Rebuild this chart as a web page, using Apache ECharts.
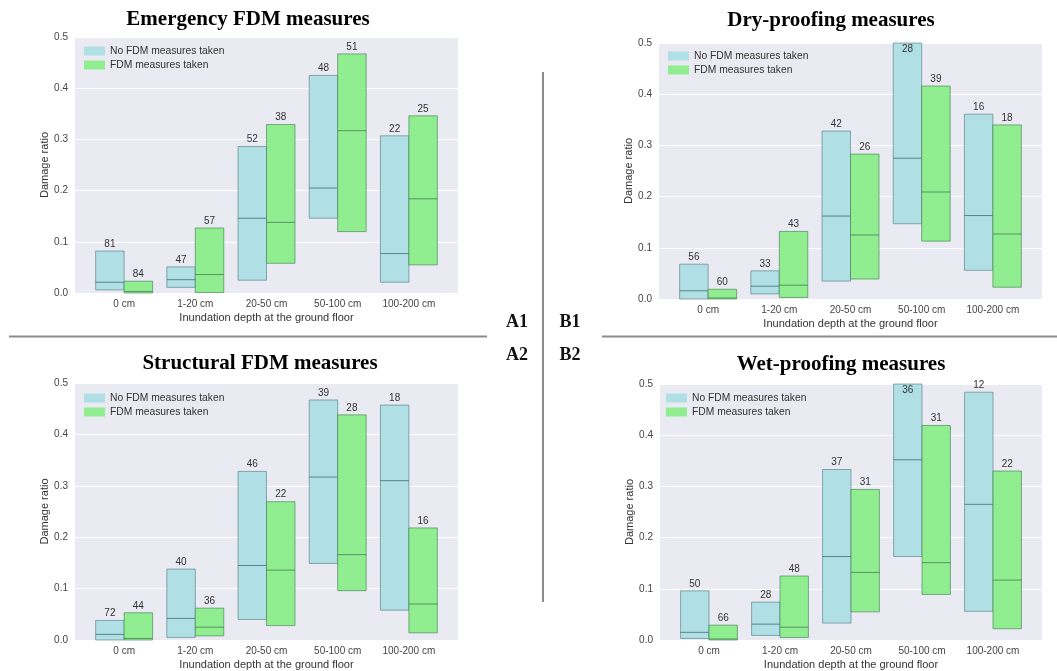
<!DOCTYPE html>
<html>
<head>
<meta charset="utf-8">
<script src="https://cdn.jsdelivr.net/npm/echarts@6/dist/echarts.min.js"></script>
<style>
  html, body { margin: 0; padding: 0; background: #fff; }
  #main { width: 1057px; height: 671px; }
</style>
</head>
<body>
<div id="main"></div>
<script>
// categories on the x axis
var categories = ['0 cm', '1-20 cm', '20-50 cm', '50-100 cm', '100-200 cm'];
var yTicks = [0, 0.1, 0.2, 0.3, 0.4, 0.5];
var seriesNames = ['No FDM measures taken', 'FDM measures taken'];

// [low, median, high] damage ratio per category, plus sample counts
// A1 Emergency
var emergencyNo = [[0.006, 0.021, 0.082], [0.011, 0.026, 0.051], [0.025, 0.146, 0.286], [0.146, 0.205, 0.425], [0.021, 0.077, 0.307]];
var emergencyNoN = [81, 47, 52, 48, 22];
var emergencyYes = [[0.0, 0.003, 0.023], [0.001, 0.036, 0.127], [0.058, 0.138, 0.329], [0.120, 0.317, 0.467], [0.055, 0.184, 0.346]];
var emergencyYesN = [84, 57, 38, 51, 25];
// B1 Dry-proofing
var dryNo = [[0.0, 0.016, 0.068], [0.010, 0.025, 0.055], [0.035, 0.162, 0.328], [0.147, 0.275, 0.52], [0.056, 0.163, 0.361]];
var dryNoN = [56, 33, 42, 28, 16];
var dryYes = [[0.0, 0.002, 0.019], [0.003, 0.027, 0.132], [0.039, 0.125, 0.283], [0.113, 0.209, 0.416], [0.023, 0.127, 0.340]];
var dryYesN = [60, 43, 26, 39, 18];
// A2 Structural
var structNo = [[0.0, 0.011, 0.038], [0.005, 0.042, 0.138], [0.040, 0.145, 0.328], [0.149, 0.317, 0.467], [0.058, 0.310, 0.457]];
var structNoN = [72, 40, 46, 39, 18];
var structYes = [[0.0, 0.003, 0.053], [0.008, 0.025, 0.062], [0.028, 0.136, 0.269], [0.096, 0.166, 0.438], [0.014, 0.070, 0.218]];
var structYesN = [44, 36, 22, 28, 16];
// B2 Wet-proofing
var wetNo = [[0.003, 0.015, 0.096], [0.009, 0.031, 0.074], [0.033, 0.163, 0.333], [0.163, 0.352, 0.52], [0.056, 0.265, 0.484]];
var wetNoN = [50, 28, 37, 36, 12];
var wetYes = [[0.0, 0.002, 0.029], [0.005, 0.025, 0.125], [0.055, 0.132, 0.294], [0.089, 0.151, 0.419], [0.022, 0.117, 0.330]];
var wetYesN = [66, 48, 31, 31, 22];

var panels = [
    {title: 'Emergency FDM measures', no: emergencyNo, noN: emergencyNoN, yes: emergencyYes, yesN: emergencyYesN,
     grid: {left: 75, top: 37, width: 383, height: 256}, titlePos: [248, 20], legendPos: [84, 46]},
    {title: 'Dry-proofing measures', no: dryNo, noN: dryNoN, yes: dryYes, yesN: dryYesN,
     grid: {left: 659, top: 43, width: 383, height: 256}, titlePos: [831, 21], legendPos: [668, 51]},
    {title: 'Structural FDM measures', no: structNo, noN: structNoN, yes: structYes, yesN: structYesN,
     grid: {left: 75, top: 383, width: 383, height: 257}, titlePos: [260, 364], legendPos: [84, 393]},
    {title: 'Wet-proofing measures', no: wetNo, noN: wetNoN, yes: wetYes, yesN: wetYesN,
     grid: {left: 660, top: 384, width: 382, height: 256}, titlePos: [841, 365], legendPos: [666, 393]}
];

var colors = ['#b0e0e6', '#90ee90'];
var edgeColors = ['rgba(70,110,115,0.55)', 'rgba(60,120,80,0.6)'];

function toData(stats, counts) {
    return stats.map(function (s, i) { return [i, s[0], s[1], s[2], counts[i]]; });
}

function makeRender(side) {
    return function (params, api) {
        var x = api.value(0);
        var x0 = side < 0 ? x - 0.4 : x;
        var x1 = side < 0 ? x : x + 0.4;
        var pTop = api.coord([x0, api.value(3)]);
        var pBot = api.coord([x1, api.value(1)]);
        var pMed = api.coord([x0, api.value(2)]);
        var cs = params.coordSys;
        // boxes reaching above 0.5 are cut at the plot top, count goes inside
        var clipped = pTop[1] < cs.y;
        var top = Math.max(pTop[1], cs.y);
        return {
            type: 'group',
            children: [
                {type: 'rect', shape: {x: pTop[0], y: top, width: pBot[0] - pTop[0], height: pBot[1] - top},
                 style: {fill: api.visual('color'), stroke: edgeColors[side < 0 ? 0 : 1], lineWidth: 1}},
                {type: 'line', shape: {x1: pTop[0], y1: pMed[1], x2: pBot[0], y2: pMed[1]},
                 style: {stroke: side < 0 ? 'rgba(60,100,105,0.75)' : 'rgba(60,110,80,0.7)', lineWidth: 1}},
                {type: 'text', x: (pTop[0] + pBot[0]) / 2, y: clipped ? cs.y + 1 : top - 2,
                 style: {text: String(api.value(4)), align: 'center', verticalAlign: clipped ? 'top' : 'bottom',
                         fill: '#333', font: '10px "Liberation Sans", Arial, sans-serif'}}
            ]
        };
    };
}

var grids = [], xAxes = [], yAxes = [], series = [], legends = [], graphics = [];

panels.forEach(function (p, k) {
    grids.push({left: p.grid.left, top: p.grid.top, width: p.grid.width, height: p.grid.height,
                show: true, backgroundColor: '#eaeaf2', borderWidth: 0});
    xAxes.push({
        type: 'value', gridIndex: k, min: -0.69, max: 4.69,
        name: 'Inundation depth at the ground floor', nameLocation: 'middle', nameGap: 19,
        nameTextStyle: {fontSize: 11, color: '#333', fontFamily: 'Liberation Sans'},
        axisLine: {show: false}, axisTick: {show: false}, splitLine: {show: false},
        axisLabel: {customValues: [0, 1, 2, 3, 4], margin: 6, fontSize: 10, color: '#444', fontFamily: 'Liberation Sans',
                    formatter: function (v) { return categories[Math.round(v)]; }}
    });
    yAxes.push({
        type: 'value', gridIndex: k, min: 0, max: 0.5, interval: 0.1,
        name: 'Damage ratio', nameLocation: 'middle', nameGap: 25,
        nameTextStyle: {fontSize: 11, color: '#333', fontFamily: 'Liberation Sans'},
        axisLine: {show: false}, axisTick: {show: false},
        splitLine: {show: true, lineStyle: {color: '#ffffff', width: 1}},
        axisLabel: {margin: 7, fontSize: 10, color: '#444', fontFamily: 'Liberation Sans',
                    formatter: function (v) { return v.toFixed(1); }}
    });
    series.push({
        type: 'custom', name: seriesNames[0], xAxisIndex: k, yAxisIndex: k, clip: false,
        itemStyle: {color: colors[0]}, renderItem: makeRender(-1),
        encode: {x: 0, y: [1, 2, 3]}, data: toData(p.no, p.noN)
    });
    series.push({
        type: 'custom', name: seriesNames[1], xAxisIndex: k, yAxisIndex: k, clip: false,
        itemStyle: {color: colors[1]}, renderItem: makeRender(1),
        encode: {x: 0, y: [1, 2, 3]}, data: toData(p.yes, p.yesN)
    });
    legends.push({
        data: seriesNames, orient: 'vertical', left: p.legendPos[0], top: p.legendPos[1],
        padding: 0, itemGap: 4, itemWidth: 21, itemHeight: 9, icon: 'rect',
        itemStyle: {borderWidth: 0},
        textStyle: {fontSize: 10.3, color: '#333', fontFamily: 'Liberation Sans'},
        selectedMode: false
    });
    graphics.push({
        type: 'text', x: p.titlePos[0], y: p.titlePos[1],
        style: {text: p.title, align: 'center', verticalAlign: 'middle', fill: '#000',
                font: 'bold 21px "Liberation Serif", "Times New Roman", serif'}
    });
});

// separators and panel tags
graphics.push({type: 'line', shape: {x1: 9, y1: 336.5, x2: 487, y2: 336.5}, style: {stroke: '#8c8c8c', lineWidth: 2}});
graphics.push({type: 'line', shape: {x1: 602, y1: 336.5, x2: 1057, y2: 336.5}, style: {stroke: '#8c8c8c', lineWidth: 2}});
graphics.push({type: 'line', shape: {x1: 543, y1: 72, x2: 543, y2: 602}, style: {stroke: '#8c8c8c', lineWidth: 2}});
[['A1', 517, 322], ['B1', 570, 322], ['A2', 517, 355], ['B2', 570, 355]].forEach(function (t) {
    graphics.push({type: 'text', x: t[1], y: t[2],
        style: {text: t[0], align: 'center', verticalAlign: 'middle', fill: '#111',
                font: 'bold 18px "Liberation Serif", "Times New Roman", serif'}});
});

var myChart = echarts.init(document.getElementById('main'));
myChart.setOption({
    backgroundColor: '#ffffff',
    animation: false,
    grid: grids,
    xAxis: xAxes,
    yAxis: yAxes,
    legend: legends,
    series: series,
    graphic: graphics
});
</script>
</body>
</html>
